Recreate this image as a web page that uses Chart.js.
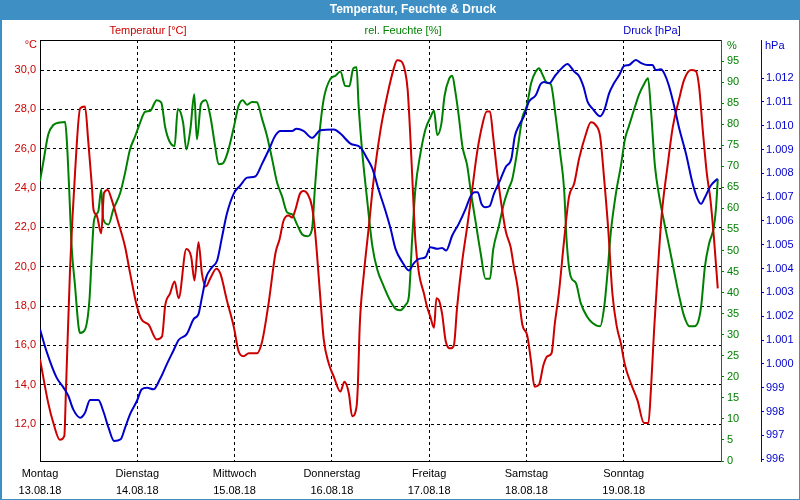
<!DOCTYPE html>
<html>
<head>
<meta charset="utf-8">
<script src="https://cdn.jsdelivr.net/npm/chart.js@4/dist/chart.umd.min.js"></script>
<style>
  html, body { margin: 0; padding: 0; background: #fff; }
  #wrap { width: 800px; height: 500px; position: relative; }
</style>
</head>
<body>
<div id="wrap"><canvas id="c" width="800" height="500"></canvas></div>
<script>
// ---------- data (hours since Monday 13.08.18 00:00) ----------
const dayNames = ['Montag', 'Dienstag', 'Mittwoch', 'Donnerstag', 'Freitag', 'Samstag', 'Sonntag'];
const dayDates = ['13.08.18', '14.08.18', '15.08.18', '16.08.18', '17.08.18', '18.08.18', '19.08.18'];
const dayTicks = [0, 24, 48, 72, 96, 120, 144, 168];
const tempTicks = [12, 14, 16, 18, 20, 22, 24, 26, 28, 30];
const humTicks = [0, 5, 10, 15, 20, 25, 30, 35, 40, 45, 50, 55, 60, 65, 70, 75, 80, 85, 90, 95];
const pressTicks = [996, 997, 998, 999, 1000, 1001, 1002, 1003, 1004, 1005, 1006, 1007, 1008, 1009, 1010, 1011, 1012];

const tempHours = [0, 2.05, 3.3, 4.9, 6.0, 6.4, 7.4, 8.65, 9.9, 11.1, 11.9, 12.8, 13.2, 14.0, 15.1, 15.8, 16.7, 17.7, 19.1, 21.0, 22.2, 23.9, 25.1, 26.8, 28.8, 30.1, 30.9, 32.1, 33.2, 34.2, 36.1, 37.3, 38.1, 39.1, 39.95, 40.9, 42.0, 43.5, 44.5, 46.1, 47.8, 49.0, 50.2, 51.5, 53.5, 54.8, 56.4, 58.1, 59.1, 60.1, 61.3, 62.2, 63.0, 64.1, 65.0, 66.0, 67.1, 67.9, 69.2, 70.0, 71.2, 72.5, 74.1, 75.1, 76.2, 77.0, 78.1, 78.4, 78.9, 79.9, 81.1, 82.3, 84.0, 85.6, 87.3, 88.1, 89.1, 90.0, 90.7, 91.4, 92.1, 92.6, 93.5, 94.7, 95.5, 96.3, 97.2, 97.8, 98.4, 99.2, 100.1, 101.3, 102.1, 102.9, 104.2, 105.4, 106.6, 107.9, 109.1, 110.2, 111.0, 111.8, 112.8, 113.8, 114.9, 116.1, 116.9, 117.8, 119.0, 120.2, 121.1, 122.0, 123.1, 124.2, 125.2, 126.2, 127.0, 128.0, 129.3, 130.5, 131.8, 133.0, 134.6, 135.9, 137.1, 138.2, 139.2, 140.2, 141.2, 142.3, 143.3, 144.3, 145.8, 147.4, 149.0, 150.1, 150.7, 151.5, 152.4, 153.4, 154.8, 156.1, 157.7, 158.9, 160.6, 161.8, 162.6, 163.5, 164.5, 165.4, 166.3, 167.2];
const tempValues = [15.3, 13.05, 12.05, 11.2, 11.4, 13.7, 19.8, 24.8, 28.05, 28.15, 26.4, 24.1, 22.9, 22.6, 21.7, 23.75, 23.9, 23.4, 22.4, 21.0, 19.7, 18.0, 17.3, 17.05, 16.3, 16.45, 18.05, 18.65, 19.25, 18.4, 20.9, 20.5, 19.3, 21.25, 19.65, 19.0, 19.4, 19.9, 19.65, 18.3, 16.95, 15.7, 15.45, 15.6, 15.6, 16.2, 18.15, 20.7, 21.4, 22.35, 22.6, 22.5, 22.9, 23.7, 23.85, 23.7, 23.05, 21.7, 18.3, 16.3, 15.1, 14.4, 13.65, 14.15, 13.55, 12.4, 12.9, 13.9, 17.1, 19.65, 22.0, 24.4, 26.95, 28.65, 30.1, 30.5, 30.45, 30.0, 29.0, 26.45, 23.4, 21.35, 19.65, 18.65, 17.95, 17.45, 16.9, 18.4, 18.3, 17.6, 16.2, 15.85, 16.0, 17.95, 20.35, 22.05, 23.9, 25.9, 27.2, 27.9, 27.9, 26.6, 24.75, 23.2, 21.8, 21.0, 20.0, 19.0, 17.05, 16.5, 15.25, 13.9, 14.0, 15.0, 15.45, 15.6, 17.1, 18.65, 21.35, 23.55, 24.25, 25.5, 26.7, 27.35, 27.2, 26.6, 24.4, 21.85, 18.65, 16.95, 16.1, 15.0, 14.05, 13.2, 12.05, 12.05, 13.7, 16.8, 19.8, 22.7, 25.1, 27.1, 28.55, 29.5, 30.0, 29.95, 29.15, 26.95, 24.75, 23.4, 21.35, 18.9];

const humHours = [0, 0.8, 2.05, 3.3, 4.9, 6.2, 6.6, 7.2, 7.8, 8.65, 9.5, 9.9, 11.1, 12.2, 12.8, 13.3, 14.4, 15.1, 15.6, 16.9, 18.1, 19.8, 21.0, 22.2, 23.5, 24.7, 25.9, 27.2, 28.8, 29.9, 30.9, 31.9, 33.2, 34.0, 35.3, 36.1, 37.1, 38.05, 38.7, 39.7, 40.9, 42.0, 43.2, 44.05, 45.1, 46.3, 47.8, 49.0, 50.0, 51.1, 52.3, 53.5, 54.8, 56.0, 57.2, 58.5, 59.7, 61.0, 62.2, 63.4, 64.7, 65.9, 67.1, 67.8, 68.8, 70.0, 71.6, 72.9, 74.1, 75.3, 76.3, 77.3, 78.1, 78.6, 79.5, 80.7, 82.0, 83.2, 84.8, 86.5, 87.9, 88.9, 90.2, 91.0, 91.8, 92.6, 93.9, 95.1, 96.3, 97.2, 98.0, 99.0, 99.8, 100.9, 101.7, 102.5, 103.3, 104.2, 105.4, 106.2, 107.5, 108.7, 109.9, 111.0, 111.8, 113.2, 114.5, 115.7, 116.5, 117.8, 119.0, 120.1, 121.2, 122.3, 123.1, 123.9, 125.0, 126.0, 127.2, 128.3, 129.3, 129.9, 130.9, 132.2, 133.4, 134.9, 136.3, 138.2, 139.2, 140.0, 140.8, 142.1, 143.3, 144.3, 145.3, 146.6, 147.8, 149.0, 150.0, 150.7, 151.7, 152.75, 154.0, 155.2, 156.5, 157.7, 158.9, 160.2, 161.4, 162.4, 163.1, 164.05, 165.1, 166.2, 166.8, 167.2];
const humValues = [66.5, 70.9, 77.6, 79.8, 80.4, 80.5, 76.4, 64.5, 51.0, 41.5, 32.0, 30.4, 31.2, 38.3, 49.4, 57.0, 59.4, 64.5, 57.4, 56.2, 59.8, 63.7, 68.5, 74.0, 77.2, 80.4, 82.9, 83.2, 85.7, 85.2, 79.2, 76.0, 74.8, 83.6, 80.4, 74.0, 78.8, 87.1, 76.4, 84.8, 85.7, 82.0, 74.8, 70.5, 70.7, 73.3, 79.2, 84.4, 85.7, 84.6, 85.3, 85.2, 81.2, 77.2, 72.0, 66.1, 62.9, 59.0, 58.6, 56.2, 53.8, 53.4, 55.0, 64.5, 76.4, 86.0, 90.7, 91.5, 92.5, 89.1, 89.0, 93.3, 93.5, 84.4, 73.3, 62.1, 51.0, 45.5, 41.5, 37.9, 36.0, 35.8, 37.1, 39.1, 52.6, 64.5, 73.3, 78.8, 81.6, 83.2, 77.4, 80.0, 86.7, 90.7, 91.5, 87.5, 82.0, 74.8, 70.1, 64.5, 56.6, 49.4, 43.3, 43.3, 50.2, 55.8, 61.4, 64.9, 66.9, 74.0, 81.6, 84.4, 89.9, 92.5, 93.3, 91.9, 89.9, 89.5, 82.0, 73.3, 64.5, 52.6, 43.9, 42.3, 37.5, 34.4, 32.8, 32.0, 36.7, 44.7, 54.2, 63.7, 70.1, 76.4, 79.6, 83.6, 87.1, 89.5, 90.9, 83.6, 70.1, 62.9, 56.6, 51.0, 44.7, 39.1, 34.4, 32.0, 32.0, 33.2, 36.7, 46.3, 51.8, 55.4, 60.5, 66.9];

const pressHours = [0, 1.7, 4.1, 5.8, 7.0, 8.2, 9.9, 11.1, 12.35, 14.4, 15.6, 16.9, 18.3, 19.9, 21.0, 22.2, 23.9, 25.1, 26.4, 28.0, 29.6, 31.3, 32.9, 34.2, 36.2, 37.9, 39.1, 39.95, 41.0, 42.4, 43.7, 44.9, 46.1, 47.8, 49.4, 51.1, 53.1, 54.8, 56.4, 58.1, 59.3, 62.2, 63.25, 65.0, 67.1, 69.2, 72.5, 74.1, 76.6, 79.1, 80.7, 82.0, 83.6, 85.2, 86.5, 87.7, 89.4, 91.0, 92.2, 93.5, 95.1, 96.3, 98.0, 99.2, 100.2, 101.7, 103.3, 105.0, 106.2, 107.2, 108.0, 108.9, 109.9, 110.9, 112.0, 113.6, 114.9, 116.3, 117.1, 118.2, 119.4, 120.6, 122.3, 123.5, 124.3, 125.6, 127.2, 128.9, 130.1, 131.8, 133.0, 134.1, 135.1, 136.3, 138.2, 139.2, 140.4, 141.6, 142.9, 144.1, 145.3, 147.0, 148.2, 149.9, 151.1, 151.9, 153.2, 154.0, 155.1, 156.5, 157.7, 159.35, 161.0, 162.2, 163.1, 164.05, 165.5, 167.2];
const pressValues = [1001.45, 1000.48, 999.42, 999.0, 998.65, 998.09, 997.74, 997.95, 998.48, 998.48, 998.02, 997.32, 996.76, 996.83, 997.32, 997.88, 998.44, 998.93, 999.0, 998.93, 999.36, 999.99, 1000.55, 1001.0, 1001.25, 1001.88, 1002.09, 1002.79, 1003.63, 1004.05, 1004.34, 1005.32, 1006.3, 1007.15, 1007.49, 1007.82, 1007.87, 1008.41, 1008.97, 1009.6, 1009.78, 1009.78, 1009.87, 1009.78, 1009.49, 1009.81, 1009.84, 1009.67, 1009.25, 1009.08, 1008.62, 1008.2, 1007.28, 1006.44, 1005.67, 1004.83, 1004.27, 1003.92, 1004.22, 1004.41, 1004.48, 1004.9, 1004.83, 1004.87, 1004.76, 1005.39, 1005.88, 1006.51, 1007.03, 1007.21, 1007.21, 1006.72, 1006.58, 1006.62, 1007.15, 1007.75, 1008.27, 1008.62, 1009.53, 1010.02, 1010.4, 1011.0, 1011.28, 1011.75, 1011.84, 1011.78, 1012.13, 1012.45, 1012.59, 1012.27, 1012.08, 1011.63, 1011.0, 1010.72, 1010.4, 1010.65, 1011.36, 1011.78, 1012.13, 1012.51, 1012.55, 1012.76, 1012.64, 1012.55, 1012.55, 1012.34, 1012.37, 1012.2, 1011.71, 1010.79, 1009.88, 1008.83, 1007.57, 1006.93, 1006.72, 1007.0, 1007.49, 1007.78];

// ---------- styling ----------
const RED = '#cc0000', GREEN = '#008000', BLUE = '#0000cc', BAR = '#3d8fc4';
const FONT = 'Liberation Sans, Arial, sans-serif';

const toXY = (hs, vs) => hs.map((h, i) => ({ x: h, y: vs[i] }));
const fmtTemp = v => v.toFixed(1).replace('.', ',');
const fmtPress = v => v >= 1000 ? '1.' + String(v - 1000).padStart(3, '0') : String(v);

const decor = {
  id: 'decor',
  beforeDraw(chart) {
    const c = chart.ctx;
    c.save();
    c.fillStyle = '#ffffff';
    c.fillRect(0, 0, 800, 500);
    c.fillStyle = BAR;
    c.fillRect(0, 0, 800, 20);
    c.fillRect(0, 0, 2, 500);
    c.fillRect(799, 0, 1, 500);
    c.fillRect(0, 499, 800, 1);
    c.fillStyle = '#ffffff';
    c.font = 'bold 12px ' + FONT;
    c.textAlign = 'center';
    c.textBaseline = 'middle';
    c.fillText('Temperatur, Feuchte & Druck', 413, 10);
    c.font = '11px ' + FONT;
    c.fillStyle = RED;   c.fillText('Temperatur [°C]', 148, 31);
    c.fillStyle = GREEN; c.fillText('rel. Feuchte [%]', 403, 31);
    c.fillStyle = BLUE;  c.fillText('Druck [hPa]', 652, 31);
    c.textAlign = 'right';
    c.fillStyle = RED;   c.fillText('°C', 37, 45);
    c.textAlign = 'left';
    c.fillStyle = GREEN; c.fillText('%', 727, 46);
    c.fillStyle = BLUE;  c.fillText('hPa', 765, 46);
    c.restore();
  }
};

new Chart(document.getElementById('c'), {
  type: 'line',
  data: {
    datasets: [
      { label: 'Druck', data: toXY(pressHours, pressValues), yAxisID: 'yP', borderColor: BLUE },
      { label: 'Temperatur', data: toXY(tempHours, tempValues), yAxisID: 'yT', borderColor: RED },
      { label: 'Feuchte', data: toXY(humHours, humValues), yAxisID: 'yH', borderColor: GREEN }
    ]
  },
  options: {
    responsive: false,
    animation: false,
    devicePixelRatio: 1,
    layout: { padding: { top: 40, left: 0, right: 0, bottom: 0 } },
    elements: {
      point: { radius: 0 },
      line: { borderWidth: 2, cubicInterpolationMode: 'monotone', fill: false }
    },
    plugins: { legend: { display: false }, tooltip: { enabled: false }, title: { display: false } },
    scales: {
      x: {
        type: 'linear', position: 'bottom', min: 0, max: 168,
        afterBuildTicks: s => { s.ticks = dayTicks.map(v => ({ value: v })); },
        afterFit: s => { s.height = 39; },
        ticks: {
          autoSkip: false, maxRotation: 0, padding: 4, color: '#000',
          font: { family: FONT, size: 11, lineHeight: 1.55 },
          callback: v => { const i = dayTicks.indexOf(v); return i >= 0 && i < dayNames.length ? [dayNames[i], dayDates[i]] : ''; }
        },
        grid: {
          drawTicks: false,
          color: ctx => (ctx.tick && (ctx.tick.value === 0 || ctx.tick.value === 168)) ? 'rgba(0,0,0,0)' : '#000',
          lineWidth: 1
        },
        border: { display: true, color: '#000', width: 1, dash: [3, 3] }
      },
      xTop: {
        type: 'linear', position: 'top', min: 0, max: 168,
        afterFit: s => { s.height = 0; },
        ticks: { display: false },
        grid: { display: false, drawTicks: false },
        border: { display: true, color: '#000', width: 1 }
      },
      yT: {
        type: 'linear', position: 'left', min: 10.12, max: 31.53,
        afterBuildTicks: s => { s.ticks = tempTicks.map(v => ({ value: v })); },
        afterFit: s => { s.width = 40; },
        ticks: { color: RED, padding: 4, font: { family: FONT, size: 11 }, callback: v => fmtTemp(v) },
        grid: { drawTicks: false, color: '#000', lineWidth: 1 },
        border: { display: true, color: '#000', width: 1, dash: [3, 3] }
      },
      yH: {
        type: 'linear', position: 'right', min: 0, max: 100,
        afterBuildTicks: s => { s.ticks = humTicks.map(v => ({ value: v })); },
        afterFit: s => { s.width = 40; },
        ticks: { color: GREEN, padding: 3, font: { family: FONT, size: 11 }, callback: v => String(v) },
        grid: { drawOnChartArea: false, drawTicks: true, tickLength: 3, color: GREEN },
        border: { display: true, color: GREEN, width: 1 }
      },
      yP: {
        type: 'linear', position: 'right', min: 995.92, max: 1013.6,
        afterBuildTicks: s => { s.ticks = pressTicks.map(v => ({ value: v })); },
        afterFit: s => { s.width = 39; },
        ticks: { color: BLUE, padding: 2, font: { family: FONT, size: 11 }, callback: v => fmtPress(v) },
        grid: { drawOnChartArea: false, drawTicks: true, tickLength: 3, color: BLUE },
        border: { display: true, color: BLUE, width: 1 }
      }
    }
  },
  plugins: [decor]
});
</script>
</body>
</html>
